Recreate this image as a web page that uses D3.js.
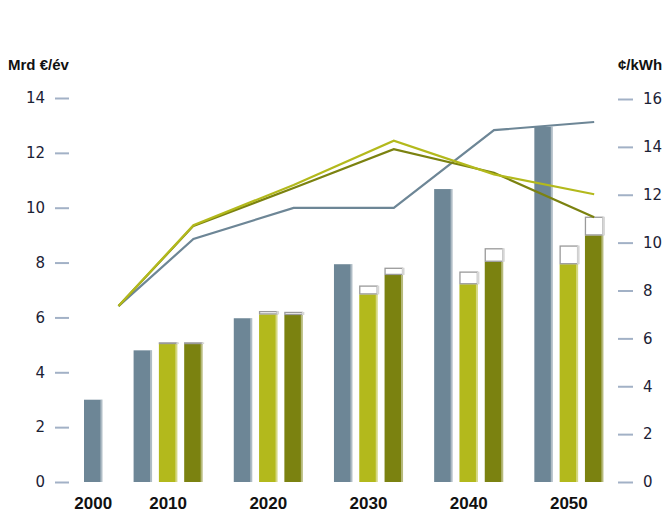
<!DOCTYPE html>
<html>
<head>
<meta charset="utf-8">
<script src="https://cdn.jsdelivr.net/npm/d3@7"></script>
<style>
  body { margin: 0; background: #fff; }
</style>
</head>
<body>
<div id="chart"></div>
<script>
// Chart data
const years = ["2000", "2010", "2020", "2030", "2040", "2050"];
const barsPerGroup = [1, 3, 3, 3, 3, 3];

// bars, left axis (Mrd €/év)
const grayBars = [3.0, 4.8, 5.97, 7.94, 10.68, 12.95];
const yellowBars = [null, 5.03, 6.11, 6.84, 7.21, 7.94];
const yellowBoxTop = [null, 5.09, 6.23, 7.16, 7.67, 8.62];
const oliveBars = [null, 5.03, 6.09, 7.55, 8.03, 8.99];
const oliveBoxTop = [null, 5.09, 6.2, 7.81, 8.52, 9.67];

// lines, right axis (¢/kWh)
const grayLine = [7.35, 10.15, 11.45, 11.45, 14.7, 15.04];
const yellowLine = [7.35, 10.73, 12.41, 14.26, 12.85, 12.02];
const oliveLine = [7.35, 10.7, 12.28, 13.9, 12.92, 11.06];

const leftTicks = [0, 2, 4, 6, 8, 10, 12, 14];
const rightTicks = [0, 2, 4, 6, 8, 10, 12, 14, 16];

const W = 671, H = 520;
const colors = { gray: "#6d8696", yellow: "#b3b91c", olive: "#7b8210", tick: "#a2b1c6" };

const svg = d3.select("#chart")
  .append("svg")
  .attr("width", W)
  .attr("height", H);

// y scales share the baseline
const yL = d3.scaleLinear().domain([0, 14]).range([482, 98]);
const yR = d3.scaleLinear().domain([0, 16]).range([482, 99]);

// x: one unit = one bar slot
const barFrac = 0.73;
const gapUnits = 0.96;
const x = d3.scaleLinear().domain([0, 1]).range([84, 109.3]);

const groupStart = [];
let acc = 0;
barsPerGroup.forEach((n, i) => {
  groupStart.push(acc);
  acc += n + gapUnits;
});
const groupCenter = barsPerGroup.map((n, i) => groupStart[i] + (n - 1) / 2 + barFrac / 2);
const lineX = groupCenter.map(c => c + 1);
const barW = x(barFrac) - x(0);

// build bar list
const bars = [];
years.forEach((yr, i) => {
  bars.push({ slot: groupStart[i], v: grayBars[i], box: null, color: colors.gray });
  if (yellowBars[i] != null) {
    bars.push({ slot: groupStart[i] + 1, v: yellowBars[i], box: yellowBoxTop[i], color: colors.yellow });
    bars.push({ slot: groupStart[i] + 2, v: oliveBars[i], box: oliveBoxTop[i], color: colors.olive });
  }
});

const gBars = svg.append("g");

gBars.selectAll("rect.bar")
  .data(bars)
  .join("rect")
  .attr("class", "bar")
  .attr("x", d => x(d.slot))
  .attr("y", d => yL(d.v))
  .attr("width", barW)
  .attr("height", d => yL(0) - yL(d.v))
  .attr("fill", d => d.color);

// light edge on the right side of each bar
gBars.selectAll("rect.edge")
  .data(bars)
  .join("rect")
  .attr("class", "edge")
  .attr("x", d => x(d.slot) + barW - 2)
  .attr("y", d => yL(d.v))
  .attr("width", 2.5)
  .attr("height", d => yL(0) - yL(d.v))
  .attr("fill", "#fff")
  .attr("opacity", 0.45);

// white boxes on top of the scenario bars
const boxed = bars.filter(d => d.box != null);
gBars.selectAll("rect.box")
  .data(boxed)
  .join("rect")
  .attr("class", "box")
  .attr("x", d => x(d.slot) + 0.5)
  .attr("y", d => yL(d.box) + 0.5)
  .attr("width", barW - 1)
  .attr("height", d => Math.max(yL(d.v) - yL(d.box) - 1, 0.5))
  .attr("fill", "#fff")
  .attr("stroke", "#9a9a9a")
  .attr("stroke-width", 1.3);

gBars.selectAll("rect.boxedge")
  .data(boxed)
  .join("rect")
  .attr("class", "boxedge")
  .attr("x", d => x(d.slot) + barW - 1)
  .attr("y", d => yL(d.box))
  .attr("width", 2.5)
  .attr("height", d => yL(d.v) - yL(d.box))
  .attr("fill", "#d6d6d6");

// lines
const line = d3.line()
  .x((d, i) => x(lineX[i]))
  .y(d => yR(d));

[[grayLine, colors.gray], [oliveLine, colors.olive], [yellowLine, colors.yellow]].forEach(([vals, c]) => {
  svg.append("path")
    .datum(vals)
    .attr("d", line)
    .attr("fill", "none")
    .attr("stroke", c)
    .attr("stroke-width", 2.2)
    .attr("stroke-linejoin", "miter");
});

// axes
const leftAxis = svg.append("g")
  .attr("transform", "translate(69,0)")
  .call(d3.axisLeft(yL).tickValues(leftTicks).tickSize(14).tickPadding(10).tickFormat(d3.format("d")));
const rightAxis = svg.append("g")
  .attr("transform", "translate(618,0)")
  .call(d3.axisRight(yR).tickValues(rightTicks).tickSize(15).tickPadding(10).tickFormat(d3.format("d")));

[leftAxis, rightAxis].forEach(g => {
  g.select(".domain").remove();
  g.selectAll(".tick line").attr("stroke", colors.tick).attr("stroke-width", 2);
  g.selectAll(".tick text")
    .attr("fill", "#1c2235")
    .style("font", "15px 'DejaVu Sans', sans-serif");
});

// year labels
svg.append("g")
  .selectAll("text")
  .data(years)
  .join("text")
  .attr("x", (d, i) => x(groupCenter[i]))
  .attr("y", 509)
  .attr("text-anchor", "middle")
  .style("font", "bold 17px 'Liberation Sans', Arial, sans-serif")
  .attr("fill", "#111")
  .text(d => d);

// axis titles
svg.append("text")
  .attr("x", 8)
  .attr("y", 70)
  .style("font", "bold 15px 'Liberation Sans', Arial, sans-serif")
  .attr("fill", "#111")
  .text("Mrd €/év");

svg.append("text")
  .attr("x", 618)
  .attr("y", 70)
  .style("font", "bold 15px 'Liberation Sans', Arial, sans-serif")
  .attr("fill", "#111")
  .text("¢/kWh");
</script>
</body>
</html>
